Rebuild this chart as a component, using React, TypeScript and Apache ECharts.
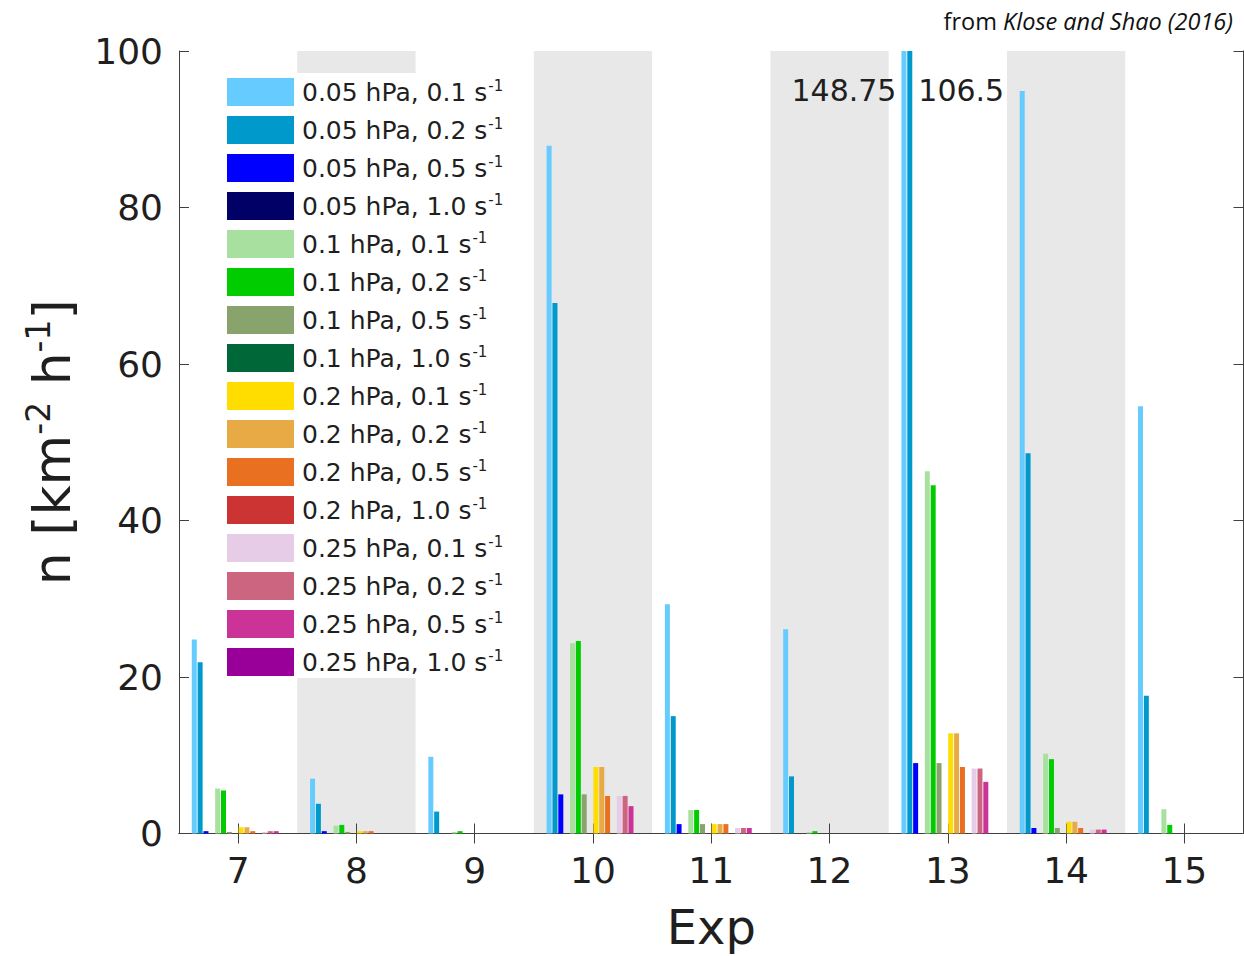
import React, { useEffect, useRef } from 'react';
import * as echarts from 'echarts';

// ---- data ----
const categories = ['7', '8', '9', '10', '11', '12', '13', '14', '15'];

const seriesNames = [
  '0.05 hPa, 0.1 s⁻¹',
  '0.05 hPa, 0.2 s⁻¹',
  '0.05 hPa, 0.5 s⁻¹',
  '0.05 hPa, 1.0 s⁻¹',
  '0.1 hPa, 0.1 s⁻¹',
  '0.1 hPa, 0.2 s⁻¹',
  '0.1 hPa, 0.5 s⁻¹',
  '0.1 hPa, 1.0 s⁻¹',
  '0.2 hPa, 0.1 s⁻¹',
  '0.2 hPa, 0.2 s⁻¹',
  '0.2 hPa, 0.5 s⁻¹',
  '0.2 hPa, 1.0 s⁻¹',
  '0.25 hPa, 0.1 s⁻¹',
  '0.25 hPa, 0.2 s⁻¹',
  '0.25 hPa, 0.5 s⁻¹',
  '0.25 hPa, 1.0 s⁻¹',
];

const seriesColors = [
  '#66CCFF', '#0099CC', '#0000FF', '#000066',
  '#A8E0A0', '#00CC00', '#88A46C', '#006838',
  '#FFDD00', '#E8AA44', '#E87020', '#CC3333',
  '#E6CCE6', '#CC6680', '#CC3399', '#990099',
];

const p005_s01 = [24.8, 7.0, 9.8, 87.9, 29.3, 26.1, 148.75, 94.9, 54.6];
const p005_s02 = [21.9, 3.8, 2.8, 67.8, 15.0, 7.3, 106.5, 48.6, 17.6];
const p005_s05 = [0.3, 0.3, 0, 5.0, 1.2, 0, 9.0, 0.7, 0];
const p005_s10 = [0, 0, 0, 0, 0, 0, 0, 0, 0];
const p01_s01 = [5.75, 1.0, 0.2, 24.3, 3.0, 0.2, 46.3, 10.2, 3.1];
const p01_s02 = [5.5, 1.1, 0.3, 24.6, 3.0, 0.3, 44.5, 9.5, 1.1];
const p01_s05 = [0.2, 0.2, 0, 5.0, 1.2, 0, 9.0, 0.7, 0];
const p01_s10 = [0, 0, 0, 0, 0, 0, 0, 0, 0];
const p02_s01 = [0.8, 0.3, 0, 8.5, 1.2, 0, 12.8, 1.5, 0];
const p02_s02 = [0.8, 0.3, 0, 8.5, 1.2, 0, 12.8, 1.5, 0];
const p02_s05 = [0.3, 0.3, 0, 4.8, 1.2, 0, 8.5, 0.7, 0];
const p02_s10 = [0, 0, 0, 0, 0, 0, 0, 0, 0];
const p025_s01 = [0.2, 0, 0, 4.8, 0.7, 0, 8.3, 0.5, 0];
const p025_s02 = [0.3, 0, 0, 4.8, 0.7, 0, 8.3, 0.5, 0];
const p025_s05 = [0.3, 0, 0, 3.5, 0.7, 0, 6.6, 0.5, 0];
const p025_s10 = [0, 0, 0, 0, 0, 0, 0, 0, 0];

const seriesValues = [
  p005_s01, p005_s02, p005_s05, p005_s10,
  p01_s01, p01_s02, p01_s05, p01_s10,
  p02_s01, p02_s02, p02_s05, p02_s10,
  p025_s01, p025_s02, p025_s05, p025_s10,
];

const yTicks = [0, 20, 40, 60, 80, 100];
// which side the out-of-range value label sits (series index -> side)
const overflowLabelSide: Record<number, 'left' | 'right'> = { 0: 'left', 1: 'right' };

const FONT = 'DejaVu Sans';
const AXIS_COLOR = '#404040';
const TEXT_COLOR = '#1f1f1f';

export default function App() {
  const ref = useRef<HTMLDivElement>(null);

  useEffect(() => {
    const chart = echarts.init(ref.current!, null, { renderer: 'svg' });
    const yMin = yTicks[0];
    const yMax = yTicks[yTicks.length - 1];
    const yInterval = yTicks[1] - yTicks[0];

    const series = seriesValues.map((vals, si) => ({
      name: seriesNames[si],
      type: 'bar',
      xAxisIndex: 0,
      yAxisIndex: 0,
      barGap: '17%',
      barCategoryGap: '21.6%',
      itemStyle: { color: seriesColors[si] },
      clip: true,
      data: vals.map((v) => {
        if (v > yMax && overflowLabelSide[si]) {
          const left = overflowLabelSide[si] === 'left';
          return {
            value: v,
            label: {
              show: true,
              formatter: '{c}',
              position: left ? [-5, 39] : ['100%', 39],
              offset: left ? [0, 0] : [6, 0],
              align: left ? 'right' : 'left',
              verticalAlign: 'middle',
              fontFamily: FONT,
              fontSize: 30,
              color: TEXT_COLOR,
            },
          };
        }
        return v;
      }),
    }));

    const option: any = {
      animation: false,
      backgroundColor: '#ffffff',
      textStyle: { fontFamily: FONT },
      grid: {
        left: 179,
        top: 51,
        right: 0.5,
        bottom: 122.5,
        containLabel: false,
        outerBoundsMode: 'none',
      },
      legend: {
        show: true,
        orient: 'vertical',
        left: 222,
        top: 73,
        padding: [5, 6, 2, 5],
        backgroundColor: '#ffffff',
        icon: 'rect',
        itemWidth: 67,
        itemHeight: 28,
        itemGap: 10,
        selectedMode: false,
        data: seriesNames,
        formatter: (name: string) => `{t|${name.replace('⁻¹', '')}}{sup|-1}`,
        textStyle: {
          fontFamily: FONT,
          fontSize: 25,
          color: TEXT_COLOR,
          padding: [0, 0, 0, 3],
          rich: {
            t: { fontFamily: FONT, fontSize: 25, lineHeight: 28, color: TEXT_COLOR },
            sup: { fontFamily: FONT, fontSize: 15, lineHeight: 14, verticalAlign: 'top', color: TEXT_COLOR, padding: [0, 0, 0, 1] },
          },
        },
      },
      xAxis: [
        {
          type: 'category',
          position: 'bottom',
          data: categories,
          boundaryGap: true,
          name: 'Exp',
          nameLocation: 'middle',
          nameGap: 69,
          nameTextStyle: { fontFamily: FONT, fontSize: 48, lineHeight: 48, color: TEXT_COLOR },
          axisLine: { show: true, lineStyle: { color: AXIS_COLOR, width: 1 } },
          axisTick: { show: true, inside: true, length: 10, alignWithLabel: true, lineStyle: { color: AXIS_COLOR } },
          axisLabel: { show: true, interval: 0, margin: 19, fontFamily: FONT, fontSize: 36, lineHeight: 36, color: TEXT_COLOR },
          splitLine: { show: false },
          splitArea: {
            show: true,
            interval: 0,
            areaStyle: { color: ['rgba(255,255,255,0)', '#e8e8e8'] },
          },
        },
        {
          type: 'category',
          position: 'top',
          data: categories,
          boundaryGap: true,
          axisLine: { show: true, lineStyle: { color: AXIS_COLOR, width: 1 } },
          axisTick: { show: true, inside: true, length: 10, alignWithLabel: true, lineStyle: { color: AXIS_COLOR } },
          axisLabel: { show: false },
          splitLine: { show: false },
        },
      ],
      yAxis: [
        {
          type: 'value',
          position: 'left',
          min: yMin,
          max: yMax,
          interval: yInterval,
          name: '{m|n [km}{s|-2}{m| h}{s|-1}{m|]}',
          nameLocation: 'middle',
          nameRotate: 90,
          nameGap: 97,
          nameTextStyle: {
            fontFamily: FONT,
            fontSize: 52,
            color: TEXT_COLOR,
            rich: {
              m: { fontFamily: FONT, fontSize: 52, lineHeight: 60, color: TEXT_COLOR },
              s: { fontFamily: FONT, fontSize: 33, lineHeight: 28, verticalAlign: 'top', color: TEXT_COLOR },
            },
          },
          axisLine: { show: true, lineStyle: { color: AXIS_COLOR, width: 1 } },
          axisTick: { show: true, inside: true, length: 10, lineStyle: { color: AXIS_COLOR } },
          axisLabel: { show: true, margin: 16, fontFamily: FONT, fontSize: 36, color: TEXT_COLOR },
          splitLine: { show: false },
        },
        {
          type: 'value',
          position: 'right',
          min: yMin,
          max: yMax,
          interval: yInterval,
          axisLine: { show: true, lineStyle: { color: AXIS_COLOR, width: 1 } },
          axisTick: { show: true, inside: true, length: 10, lineStyle: { color: AXIS_COLOR } },
          axisLabel: { show: false },
          splitLine: { show: false },
        },
      ],
      graphic: [
        {
          type: 'text',
          right: 11,
          top: 9,
          style: {
            text: '{a|from }{b|Klose and Shao (2016)}',
            rich: {
              a: { fontFamily: 'Open Sans', fontSize: 23.5, fill: '#111' },
              b: { fontFamily: 'Open Sans', fontSize: 23.5, fontStyle: 'italic', fill: '#111' },
            },
          },
        },
      ],
      series,
    };

    chart.setOption(option);
    return () => chart.dispose();
  }, []);

  return (
    <div
      ref={ref}
      style={{ position: 'absolute', left: 0, top: 0, width: 1244, height: 956, background: '#fff' }}
    />
  );
}
